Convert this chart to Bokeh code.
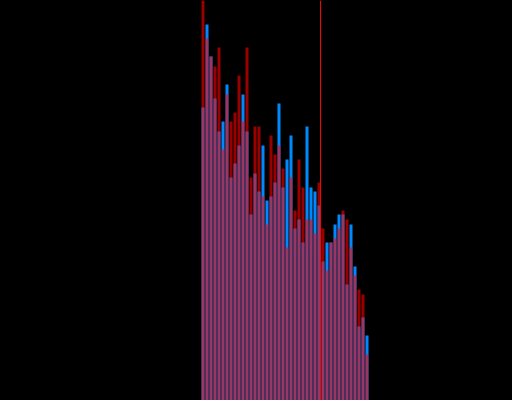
from bokeh.plotting import figure
from bokeh.models import Range1d, Span, ColumnDataSource
from bokeh.embed import file_html
from bokeh.resources import INLINE

# histogram bins (bin index) and counts of the two series
bins = list(range(42))
blue_counts = [293, 376, 344, 302, 269, 279, 316, 223, 237, 255, 306, 269, 186, 227,
               209, 255, 200, 204, 218, 297, 213, 241, 265, 172, 181, 158, 274, 213,
               209, 195, 139, 158, 158, 176, 186, 186, 116, 176, 134, 74, 83, 65]
red_counts = [420, 362, 344, 334, 353, 251, 306, 279, 288, 325, 279, 353, 223, 274,
              274, 204, 176, 265, 246, 255, 232, 153, 223, 190, 241, 213, 181, 181,
              167, 218, 172, 130, 158, 162, 172, 190, 181, 153, 125, 111, 106, 46]
marker_position = 29.375

src = ColumnDataSource(dict(x=bins, blue=blue_counts, red=red_counts))

p = figure(width=512, height=400, output_backend="svg", toolbar_location=None,
           x_range=Range1d(-50.625, 77.375), y_range=Range1d(0, 400),
           x_axis_location=None, y_axis_location=None, min_border=0,
           background_fill_color="#000000", border_fill_color="#000000",
           outline_line_color=None)
p.grid.visible = False

p.vbar(x="x", top="blue", width=0.75, source=src, fill_color="#0088ff",
       line_color=None)
p.vbar(x="x", top="red", width=0.75, source=src, fill_color="#ff0000",
       fill_alpha=0.6, line_color=None)

p.add_layout(Span(location=marker_position, dimension="height",
                  line_color="#ff0000", line_width=1))

html = file_html(p, INLINE)
html = html.replace("</head>", "<style>html,body{margin:0;padding:0;background:#000;}</style></head>")
open("out.html", "w").write(html)
